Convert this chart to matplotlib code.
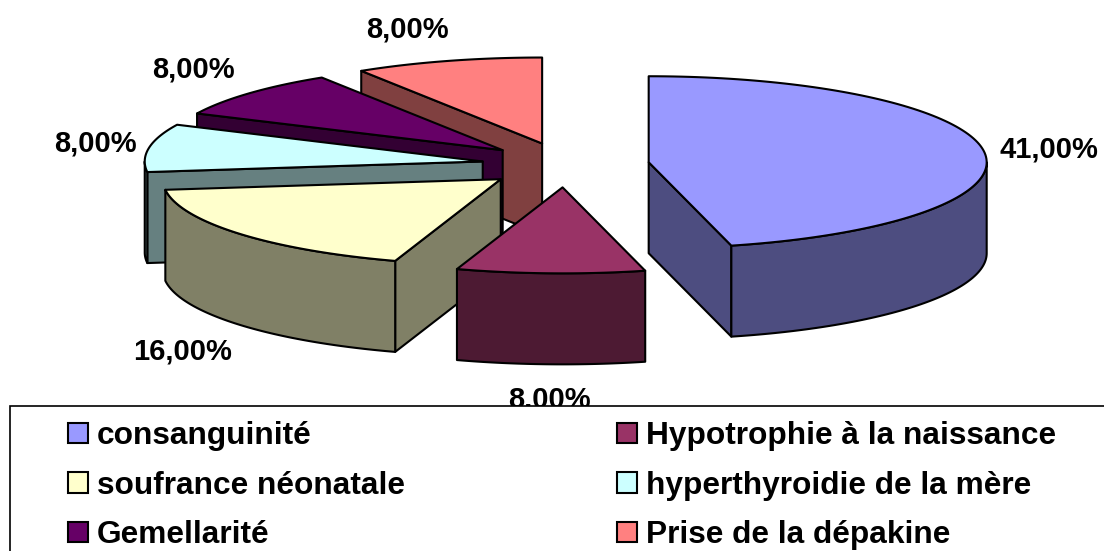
import numpy as np
import matplotlib
matplotlib.use("Agg")
import matplotlib.pyplot as plt
from matplotlib.patches import Polygon, Patch, Rectangle

categories = ["consanguinité", "Hypotrophie à la naissance", "soufrance néonatale",
              "hyperthyroidie de la mère", "Gemellarité", "Prise de la dépakine"]
values = [41, 8, 16, 8, 8, 8]
top_colors = ["#9999FF", "#993366", "#FFFFCC", "#CCFFFF", "#660066", "#FF8080"]
side_colors = ["#4D4D80", "#4D1A33", "#808066", "#668080", "#330033", "#804040"]
label_pos = [(1049, 149), (549, 398), (183, 351), (95, 143), (193, 68), (407, 29)]

W, H = 1104, 551
CX, CY = 565.5, 165
RX, RY = 338, 86
DEPTH = 91
EXPLODE_X, EXPLODE_Y = 0.248, 0.26
LW = 1.5

plt.rcParams["font.family"] = ["Liberation Sans", "DejaVu Sans"]
fig = plt.figure(figsize=(W / 100, H / 100), dpi=100)
ax = fig.add_axes([0, 0, 1, 1])
ax.set_xlim(0, W)
ax.set_ylim(H, 0)
ax.axis("off")


def rim(ox, oy, t):
    r = np.radians(t)
    return np.column_stack([ox + RX * np.sin(r), oy - RY * np.cos(r)])


def add(pts, color, z):
    ax.add_patch(Polygon(pts, closed=True, facecolor=color, edgecolor="black",
                         linewidth=LW, joinstyle="round", zorder=z))


def cut_face(ox, oy, t, color, z):
    e = rim(ox, oy, np.array([t]))[0]
    add([(ox, oy), tuple(e), (e[0], e[1] + DEPTH), (ox, oy + DEPTH)], color, z)


edges = np.concatenate([[0], np.cumsum(values)]) / sum(values) * 360
slices = []
for i in range(len(values)):
    a, b = edges[i], edges[i + 1]
    mid = np.radians((a + b) / 2)
    ox = CX + EXPLODE_X * RX * np.sin(mid)
    oy = CY - EXPLODE_Y * RY * np.cos(mid)
    slices.append((i, a, b, ox, oy))

# Back-to-front painting order
order = [5, 4, 3, 2, 1, 0]
z = 1.0
for i in order:
    _, a, b, ox, oy = slices[i]
    faces = [(a, np.sin(np.radians(a)) < 0), (b, np.sin(np.radians(b)) > 0)]
    for t, visible in faces:
        if visible:
            cut_face(ox, oy, t, side_colors[i], z)
            z += 0.01
    lo, hi = max(a, 90), min(b, 270)
    if hi > lo:
        tt = np.linspace(lo, hi, 80)
        up = rim(ox, oy, tt)
        low = up[::-1] + np.array([0, DEPTH])
        add(np.vstack([up, low]), side_colors[i], z)
        z += 0.01
    tt = np.linspace(a, b, 120)
    add(np.vstack([[(ox, oy)], rim(ox, oy, tt)]), top_colors[i], z)
    z += 0.01

for v, (x, y) in zip(values, label_pos):
    ax.text(x, y + 1, f"{v:.2f}%".replace(".", ","), ha="center", va="center",
            fontsize=21, fontweight="bold", color="black", zorder=3)

ax.add_patch(Rectangle((10, 406), W, H, facecolor="white", edgecolor="black",
                       linewidth=1.2, zorder=4))

col_order = [0, 2, 4, 1, 3, 5]
handles = [Patch(facecolor=top_colors[i], edgecolor="black", linewidth=1.5) for i in col_order]
labels = [categories[i] for i in col_order]
ax.legend(handles, labels, ncol=2, loc="upper left", bbox_to_anchor=(68, 421),
          bbox_transform=ax.transData, frameon=False,
          prop={"weight": "bold", "size": 22.8}, borderpad=0, borderaxespad=0,
          handlelength=0.633, handleheight=0.6, handletextpad=0.28,
          labelspacing=0.62, columnspacing=6.7)

fig.savefig("out.png", dpi=100)
